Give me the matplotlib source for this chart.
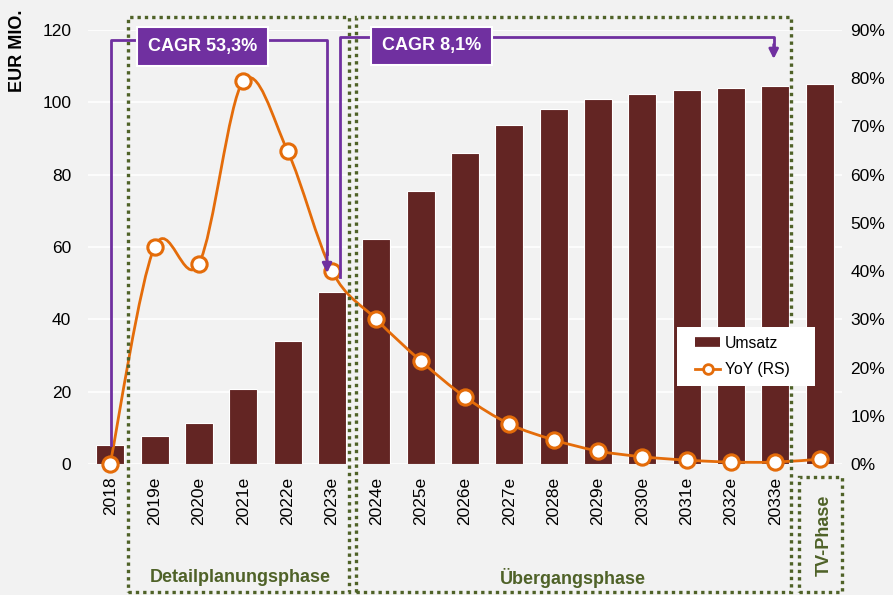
import matplotlib
matplotlib.use("Agg")
import matplotlib.pyplot as plt
from matplotlib.path import Path
from matplotlib.patches import PathPatch, Rectangle
from matplotlib.lines import Line2D

plt.rcParams['font.family'] = ['Liberation Sans', 'DejaVu Sans']

years = ["2018", "2019e", "2020e", "2021e", "2022e", "2023e", "2024e", "2025e",
         "2026e", "2027e", "2028e", "2029e", "2030e", "2031e", "2032e", "2033e", ""]
umsatz = [5.3, 7.7, 11.3, 20.7, 34.0, 47.6, 62.2, 75.5, 86.0, 93.7, 98.1,
          100.9, 102.3, 103.4, 104.0, 104.5, 105.0]
yoy = [0.0, 45.0, 41.5, 79.4, 64.9, 40.0, 30.0, 21.4, 13.9, 8.3, 5.0,
       2.7, 1.5, 0.8, 0.4, 0.4, 1.0]
left_ticks = [0, 20, 40, 60, 80, 100, 120]
right_ticks = [0, 10, 20, 30, 40, 50, 60, 70, 80, 90]

BG = '#f2f2f2'
MAROON = '#632523'
ORANGE = '#e46c0a'
PURPLE = '#7030a0'
GREEN = '#4f6228'


def smooth_path(xs, ys):
    # Excel-like smoothed line: Catmull-Rom segments as cubic Beziers
    pts = list(zip(xs, ys))
    n = len(pts)
    verts = [pts[0]]
    codes = [Path.MOVETO]
    for i in range(n - 1):
        p0 = pts[max(i - 1, 0)]
        p1 = pts[i]
        p2 = pts[i + 1]
        p3 = pts[min(i + 2, n - 1)]
        c1 = (p1[0] + (p2[0] - p0[0]) / 6, p1[1] + (p2[1] - p0[1]) / 6)
        c2 = (p2[0] - (p3[0] - p1[0]) / 6, p2[1] - (p3[1] - p1[1]) / 6)
        verts += [c1, c2, p2]
        codes += [Path.CURVE4] * 3
    return Path(verts, codes)


fig = plt.figure(figsize=(8.93, 5.95), dpi=100, facecolor=BG)
ax = fig.add_axes([88 / 893, 1 - 464 / 595, 754 / 893, 434 / 595])
ax.set_facecolor(BG)
x = list(range(len(years)))

ax.bar(x, umsatz, width=0.63, color=MAROON, edgecolor='white', linewidth=0.8, zorder=2)
ax.set_xlim(-0.5, len(years) - 0.5)
ax.set_ylim(0, 120)
ax.set_yticks(left_ticks)
ax.set_xticks(x)
ax.set_xticklabels(years, rotation=90, fontsize=12.5)
ax.grid(axis='y', color='white', linewidth=1.2, zorder=0)
ax.set_axisbelow(True)
ax.tick_params(axis='y', length=0, pad=12, labelsize=12.5)
ax.tick_params(axis='x', length=0, pad=9)
for s in ax.spines.values():
    s.set_visible(False)

ax2 = ax.twinx()
ax2.set_ylim(0, 90)
ax2.set_yticks(right_ticks)
ax2.set_yticklabels([f"{t}%" for t in right_ticks])
ax2.tick_params(axis='y', length=0, pad=6, labelsize=12.5)
for s in ax2.spines.values():
    s.set_visible(False)

ax2.add_patch(PathPatch(smooth_path(x, yoy), fill=False, edgecolor=ORANGE,
                        linewidth=2, zorder=3))
ax2.plot(x, yoy, linestyle='none', marker='o', markersize=11, markerfacecolor='white',
         markeredgecolor=ORANGE, markeredgewidth=2.2, zorder=4, clip_on=False)

# green dotted phase frames
frames = [(0.41, -35.4, 4.98, 159.0), (5.54, -35.4, 9.81, 159.0), (15.53, -35.4, 0.97, 31.8)]
for fx, fy, fw, fh in frames:
    ax2.add_patch(Rectangle((fx, fy), fw, fh, transform=ax.transData, fill=False,
                            edgecolor=GREEN, linestyle=(0, (1, 1.2)), linewidth=2.4,
                            clip_on=False, zorder=6))
ax2.text(2.93, -31.5, "Detailplanungsphase", transform=ax.transData, ha='center',
         va='center', fontsize=13, fontweight='bold', color=GREEN)
ax2.text(10.43, -31.5, "Übergangsphase", transform=ax.transData, ha='center',
         va='center', fontsize=13, fontweight='bold', color=GREEN)
ax2.text(16.1, -19.6, "TV-Phase", transform=ax.transData, ha='center', va='center',
         rotation=90, fontsize=13, fontweight='bold', color=GREEN)

# purple CAGR brackets
ax2.plot([0.02, 0.02, 4.89, 4.89], [5.3, 117.2, 117.2, 58], transform=ax.transData,
         color=PURPLE, linewidth=2, clip_on=False, zorder=7)
ax2.annotate("", xy=(4.89, 52.8), xytext=(4.89, 58.5), xycoords=ax.transData,
             textcoords=ax.transData,
             arrowprops=dict(arrowstyle='-|>', color=PURPLE, lw=2, mutation_scale=14,
                             shrinkA=0, shrinkB=0), zorder=7)
ax2.plot([5.18, 5.18, 14.96, 14.96], [51.7, 118.1, 118.1, 115], transform=ax.transData,
         color=PURPLE, linewidth=2, clip_on=False, zorder=7)
ax2.annotate("", xy=(14.96, 112), xytext=(14.96, 116), xycoords=ax.transData,
             textcoords=ax.transData,
             arrowprops=dict(arrowstyle='-|>', color=PURPLE, lw=2, mutation_scale=14,
                             shrinkA=0, shrinkB=0), zorder=7)

box = dict(boxstyle='square,pad=0.6', facecolor=PURPLE, edgecolor='white', linewidth=1.5)
ax2.text(2.09, 115.4, "CAGR 53,3%", transform=ax.transData, ha='center', va='center',
         fontsize=13, fontweight='bold', color='white', bbox=box, zorder=8)
ax2.text(7.25, 115.6, "CAGR 8,1%", transform=ax.transData, ha='center', va='center',
         fontsize=13, fontweight='bold', color='white', bbox=box, zorder=8)

fig.text(18 / 893, 1 - 10 / 595, "EUR MIO.", rotation=90, ha='center', va='top',
         fontsize=13, fontweight='bold')

# legend on a white panel
ax2.add_patch(Rectangle((0.781, 0.1797), 0.183, 0.136, transform=ax2.transAxes,
                        facecolor='white', edgecolor='none', zorder=8))
handles = [Line2D([], [], color=MAROON, linewidth=7, solid_capstyle='butt'),
           Line2D([], [], color=ORANGE, linewidth=2, marker='o', markersize=7,
                  markerfacecolor='white', markeredgecolor=ORANGE, markeredgewidth=2)]
leg = ax2.legend(handles, ["Umsatz", "YoY (RS)"], loc='center left',
                 bbox_to_anchor=(0.805, 0.2477), frameon=False, fontsize=11.3,
                 handlelength=1.6, handletextpad=0.3, labelspacing=0.75,
                 borderpad=0, borderaxespad=0)
leg.set_zorder(9)

fig.savefig("out.png", dpi=100, facecolor=BG)
